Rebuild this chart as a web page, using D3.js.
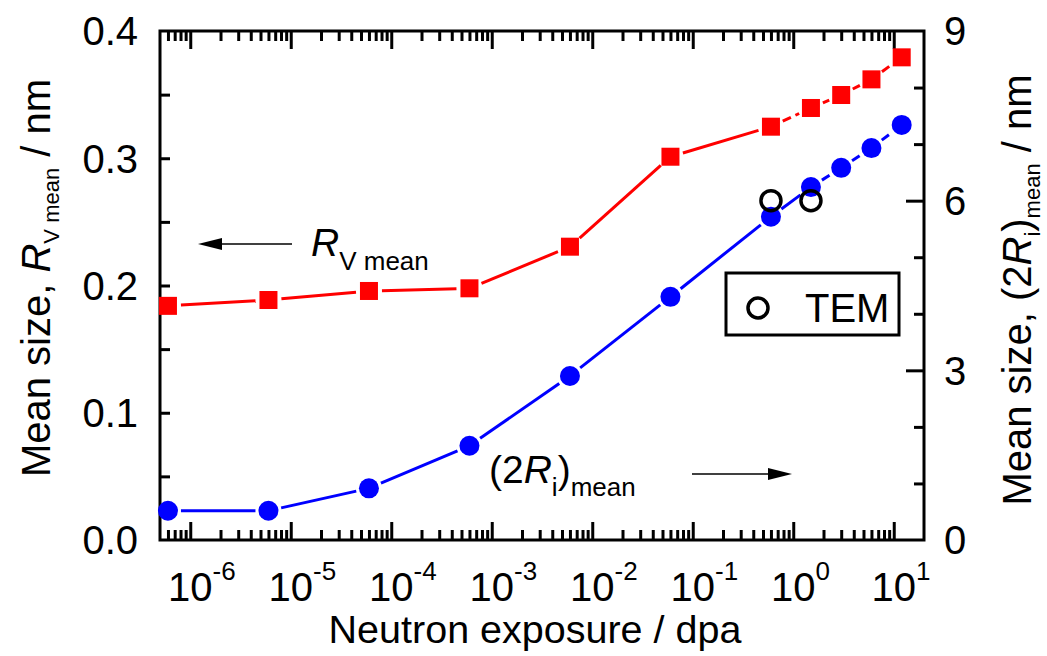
<!DOCTYPE html>
<html><head><meta charset="utf-8">
<script src="https://cdn.jsdelivr.net/npm/d3@7"></script>
<style>body{margin:0;background:#fff} text{font-family:Arial,"Liberation Sans",sans-serif;fill:#000}</style>
</head><body><svg id="c" width="1047" height="656"></svg>
<script>
// ---- data ----
const exposure = [6e-7, 6e-6, 6e-5, 6e-4, 6e-3, 0.06, 0.6, 1.5, 3, 6, 12];
const rvMean = [0.184, 0.1886, 0.1957, 0.1978, 0.2305, 0.3012, 0.3248, 0.3395, 0.3497, 0.362, 0.3793];
const twoRiMean = [0.518, 0.518, 0.914, 1.667, 2.90, 4.30, 5.716, 6.24, 6.58, 6.93, 7.34];
const temExposure = [0.6, 1.5];
const temSize = [6.0, 6.0];
const xTickExps = [-6, -5, -4, -3, -2, -1, 0, 1];
const yLeftTicks = [0, 0.1, 0.2, 0.3, 0.4];
const yRightTicks = [0, 3, 6, 9];

// ---- layout ----
const L = 160, R = 924, T = 31, B = 540;
const svg = d3.select("#c");
const x = d3.scaleLog().domain([5e-7, 20]).range([L, R]);
const yL = d3.scaleLinear().domain([0, 0.4]).range([B, T]);
const yR = d3.scaleLinear().domain([0, 9]).range([B, T]);

const majorX = xTickExps.map(e => Math.pow(10, e));
const minorX = [];
for (let e = -7; e <= 1; e++) for (let m = 2; m <= 9; m++) {
  const v = m * Math.pow(10, e);
  if (v > 5e-7 && v < 20) minorX.push(v);
}

function styleAxis(g) {
  g.select(".domain").remove();
  g.selectAll(".tick line").attr("stroke", "#000").attr("stroke-width", 3);
  g.selectAll(".tick text").remove();
}
svg.append("g").attr("transform", `translate(0,${B})`).call(d3.axisBottom(x).tickValues(majorX).tickSize(-18).tickFormat("")).call(styleAxis);
svg.append("g").attr("transform", `translate(0,${B})`).call(d3.axisBottom(x).tickValues(minorX).tickSize(-10).tickFormat("")).call(styleAxis);
svg.append("g").attr("transform", `translate(0,${T})`).call(d3.axisTop(x).tickValues(majorX).tickSize(-18).tickFormat("")).call(styleAxis);
svg.append("g").attr("transform", `translate(0,${T})`).call(d3.axisTop(x).tickValues(minorX).tickSize(-10).tickFormat("")).call(styleAxis);
svg.append("g").attr("transform", `translate(${L},0)`).call(d3.axisLeft(yL).tickValues(d3.range(0.05, 0.4, 0.05)).tickSize(-10).tickFormat("")).call(styleAxis);
svg.append("g").attr("transform", `translate(${R},0)`).call(d3.axisRight(yR).tickValues(yRightTicks.slice(1, -1)).tickSize(-18).tickFormat("")).call(styleAxis);
svg.append("g").attr("transform", `translate(${R},0)`).call(d3.axisRight(yR).tickValues(d3.range(1, 9).filter(v => v % 3)).tickSize(-10).tickFormat("")).call(styleAxis);

svg.append("rect").attr("x", L).attr("y", T).attr("width", R - L).attr("height", B - T)
  .attr("fill", "none").attr("stroke", "#000").attr("stroke-width", 3);

// tick labels
const fs = 40;
const xl = svg.append("g");
xTickExps.forEach(e => {
  const t = xl.append("text").attr("x", x(Math.pow(10, e))).attr("y", 601).attr("text-anchor", "middle").style("font-size", fs + "px");
  t.append("tspan").text("10");
  t.append("tspan").attr("dy", -21).style("font-size", "26px").text(String(e));
});
xl.selectAll("text").each(function () {
  const first = this.firstChild.getComputedTextLength();
  const tot = this.getComputedTextLength();
  d3.select(this).attr("dx", (tot - first) / 2);
});
svg.append("g").selectAll("text").data(yLeftTicks).join("text")
  .attr("x", L - 22).attr("y", d => yL(d)).attr("dy", "0.36em").attr("text-anchor", "end")
  .style("font-size", fs + "px").text(d => d3.format(".1f")(d));
svg.append("g").selectAll("text").data(yRightTicks).join("text")
  .attr("x", R + 20).attr("y", d => yR(d)).attr("dy", "0.36em").attr("text-anchor", "start")
  .style("font-size", fs + "px").text(d => d);

// axis titles
svg.append("text").attr("x", (L + R) / 2 - 7).attr("y", 643).attr("text-anchor", "middle")
  .style("font-size", "39.5px").text("Neutron exposure / dpa");

const lt = svg.append("text").attr("transform", "translate(50,278) rotate(-90)").attr("text-anchor", "middle").style("font-size", "40px");
lt.append("tspan").text("Mean size, ");
lt.append("tspan").style("font-style", "italic").text("R");
lt.append("tspan").attr("dy", 9).style("font-size", "22px").text("V mean");
lt.append("tspan").attr("dy", -9).text(" / nm");

const rt = svg.append("text").attr("transform", "translate(1031,290) rotate(-90)").attr("text-anchor", "middle").style("font-size", "40px");
rt.append("tspan").text("Mean size, (2");
rt.append("tspan").style("font-style", "italic").text("R");
rt.append("tspan").attr("dy", 9).style("font-size", "22px").text("i");
rt.append("tspan").attr("dy", -9).text(")");
rt.append("tspan").attr("dy", 9).style("font-size", "22px").text("mean");
rt.append("tspan").attr("dy", -9).text(" / nm");

// ---- series ----
function drawSeries(vals, yScale, color, dashStart) {
  const pts = exposure.map((e, i) => [x(e), yScale(vals[i])]);
  const gap = 13;
  const g = svg.append("g");
  for (let i = 0; i < pts.length - 1; i++) {
    const [x1, y1] = pts[i], [x2, y2] = pts[i + 1];
    const d = Math.hypot(x2 - x1, y2 - y1);
    if (d <= 2 * gap) continue;
    const ux = (x2 - x1) / d, uy = (y2 - y1) / d;
    g.append("line")
      .attr("x1", x1 + ux * gap).attr("y1", y1 + uy * gap)
      .attr("x2", x2 - ux * gap).attr("y2", y2 - uy * gap)
      .attr("stroke", color).attr("stroke-width", 3)
      .attr("stroke-dasharray", i >= dashStart ? "9,5" : null);
  }
  return pts;
}
const redPts = drawSeries(rvMean, yL, "#ff0000", 6);
const bluePts = drawSeries(twoRiMean, yR, "#0000ff", 7);
svg.append("g").selectAll("rect").data(redPts).join("rect")
  .attr("x", d => d[0] - 9).attr("y", d => d[1] - 9).attr("width", 18).attr("height", 18).attr("fill", "#ff0000");
svg.append("g").selectAll("circle").data(bluePts).join("circle")
  .attr("cx", d => d[0]).attr("cy", d => d[1]).attr("r", 10).attr("fill", "#0000ff");
svg.append("g").selectAll("circle").data(temExposure.map((e, i) => [x(e), yR(temSize[i])])).join("circle")
  .attr("cx", d => d[0]).attr("cy", d => d[1]).attr("r", 10).attr("fill", "none").attr("stroke", "#000").attr("stroke-width", 3.5);

// legend
svg.append("rect").attr("x", 726).attr("y", 273).attr("width", 173).attr("height", 62)
  .attr("fill", "#fff").attr("stroke", "#000").attr("stroke-width", 3);
svg.append("circle").attr("cx", 758).attr("cy", 308).attr("r", 10).attr("fill", "none").attr("stroke", "#000").attr("stroke-width", 3.5);
svg.append("text").attr("x", 805).attr("y", 322).style("font-size", "40px").text("TEM");

// annotations
function arrow(x1, x2, yy) {
  const dir = Math.sign(x2 - x1);
  svg.append("line").attr("x1", x1).attr("y1", yy).attr("x2", x2 - dir * 20).attr("y2", yy).attr("stroke", "#000").attr("stroke-width", 1.6);
  svg.append("path").attr("d", `M${x2},${yy} L${x2 - dir * 24},${yy - 6} L${x2 - dir * 24},${yy + 6} Z`).attr("fill", "#000");
}
arrow(292, 198, 244);
arrow(692, 792, 474);
const a1 = svg.append("text").attr("x", 311).attr("y", 256).style("font-size", "39px");
a1.append("tspan").style("font-style", "italic").text("R");
a1.append("tspan").attr("dy", 14).style("font-size", "26px").text("V mean");
const a2 = svg.append("text").attr("x", 489).attr("y", 483).style("font-size", "39px");
a2.append("tspan").text("(2");
a2.append("tspan").style("font-style", "italic").text("R");
a2.append("tspan").attr("dy", 13).style("font-size", "26px").text("i");
a2.append("tspan").attr("dy", -13).text(")");
a2.append("tspan").attr("dy", 13).style("font-size", "26px").text("mean");
</script></body></html>
